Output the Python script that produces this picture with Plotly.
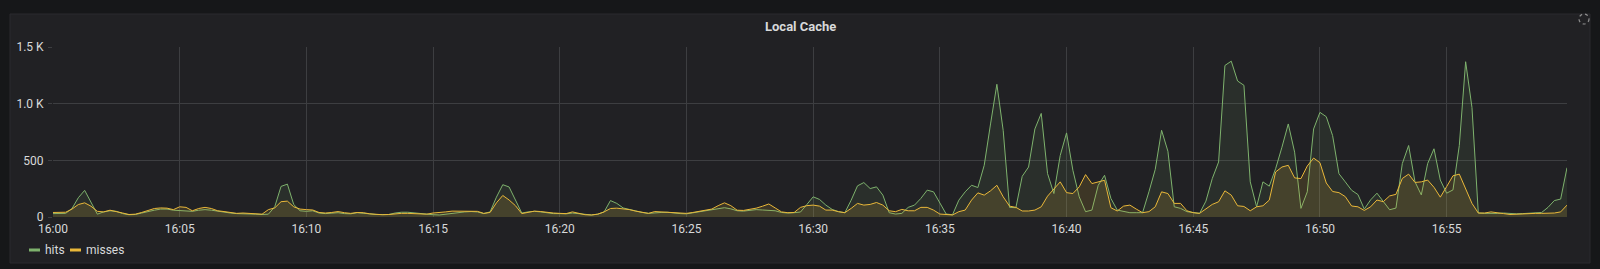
import pandas as pd
import plotly.graph_objects as go

start_time = "2024-01-01 16:00:00"
step_seconds = 15

hits = [
    30, 30, 32, 75, 170, 235, 130, 25, 45, 55, 50, 30, 20, 22, 35, 50, 60, 70, 70, 60,
    55, 55, 50, 60, 65, 60, 50, 45, 35, 30, 30, 28, 25, 22, 25, 90, 270, 290, 110, 55,
    50, 55, 35, 30, 35, 38, 30, 28, 38, 35, 28, 22, 20, 22, 35, 42, 42, 35, 28, 22,
    20, 18, 25, 35, 40, 45, 48, 45, 30, 45, 175, 285, 265, 150, 35, 45, 50, 45, 35, 30,
    30, 28, 35, 28, 20, 18, 25, 45, 145, 120, 80, 65, 50, 40, 32, 38, 40, 42, 35, 30,
    28, 38, 45, 55, 65, 75, 82, 72, 55, 52, 58, 65, 62, 58, 55, 40, 35, 38, 44, 110,
    178, 155, 105, 67, 47, 38, 149, 275, 304, 251, 266, 193, 38, 26, 32, 85, 105, 164, 237, 222,
    120, 26, 20, 149, 222, 280, 260, 456, 821, 1171, 762, 85, 82, 359, 441, 777, 914, 383, 207, 543,
    742, 412, 178, 47, 61, 280, 368, 164, 61, 47, 38, 38, 38, 222, 420, 765, 580, 90, 76, 47,
    41, 32, 140, 339, 485, 1337, 1375, 1200, 1162, 310, 90, 310, 272, 426, 616, 821, 572, 76, 222, 777,
    923, 885, 718, 382, 310, 236, 198, 70, 151, 210, 137, 64, 79, 471, 631, 311, 195, 471, 602, 326,
    210, 239, 631, 1370, 966, 35, 32, 30, 32, 35, 30, 28, 30, 32, 32, 40, 85, 145, 158, 435,
]

misses = [
    40, 40, 42, 70, 110, 125, 95, 50, 45, 60, 50, 35, 22, 25, 40, 60, 75, 80, 78, 65,
    90, 85, 55, 75, 85, 75, 55, 48, 38, 32, 35, 32, 28, 25, 65, 80, 135, 140, 90, 70,
    65, 62, 40, 35, 40, 48, 38, 32, 40, 38, 28, 22, 20, 22, 28, 32, 32, 30, 25, 25,
    35, 38, 45, 52, 50, 50, 50, 50, 32, 40, 125, 190, 150, 100, 30, 40, 52, 48, 40, 35,
    32, 30, 45, 35, 20, 18, 25, 45, 75, 78, 72, 65, 52, 40, 32, 48, 45, 45, 40, 38,
    32, 40, 48, 58, 70, 100, 125, 100, 60, 58, 65, 78, 95, 115, 80, 45, 38, 40, 85, 100,
    105, 96, 61, 61, 47, 38, 76, 120, 105, 111, 128, 105, 55, 47, 67, 55, 55, 85, 85, 61,
    26, 20, 18, 47, 61, 149, 213, 193, 231, 280, 178, 96, 85, 53, 53, 61, 90, 184, 251, 310,
    215, 207, 266, 374, 295, 310, 324, 82, 53, 96, 105, 70, 38, 47, 90, 222, 207, 120, 120, 55,
    38, 32, 70, 111, 134, 231, 193, 99, 93, 55, 90, 99, 149, 397, 441, 456, 345, 339, 450, 520,
    479, 300, 225, 215, 180, 97, 90, 58, 90, 150, 135, 186, 200, 340, 378, 305, 310, 326, 262, 175,
    268, 364, 378, 253, 120, 35, 35, 45, 40, 30, 22, 25, 30, 35, 32, 32, 32, 35, 45, 105,
]

y_tick_vals = [0, 500, 1000, 1500]
y_tick_text = ["0", "500", "1.0 K", "1.5 K"]
title_text = "Local Cache"
series_names = ["hits", "misses"]
series_colors = ["#7EB26D", "#EAB839"]
series_fills = ["rgba(126,178,109,0.10)", "rgba(234,184,57,0.14)"]

times = pd.date_range(start_time, periods=len(hits), freq=f"{step_seconds}s")
x_ticks = pd.date_range(start_time, periods=12, freq="5min")

W, H = 1600, 269
L, R, T, B = 53, 1567, 47, 217  # plot area in pixels


def px(x):
    return (x - L) / (R - L)


def py(y):
    return (B - y) / (B - T)


fig = go.Figure()
for name, vals, col, fill in zip(series_names, [hits, misses], series_colors, series_fills):
    fig.add_trace(go.Scatter(
        x=times, y=vals, name=name, mode="lines",
        line=dict(color=col, width=1),
        fill="tozeroy", fillcolor=fill,
        showlegend=False, hoverinfo="x+y+name",
    ))

grid = "#3d3e41"
font_col = "#d8d9da"

shapes = [
    # panel
    dict(type="rect", xref="paper", yref="paper", x0=px(10), x1=px(1590), y0=py(263), y1=py(14),
         fillcolor="#212124", line=dict(color="#2a2b2e", width=1), layer="below"),
    # loading spinner
    dict(type="circle", xref="paper", yref="paper", x0=px(1579), x1=px(1589), y0=py(24), y1=py(14),
         line=dict(color="#8e8e8e", width=1.2, dash="dot"), layer="above"),
]
annotations = [
    dict(text="<b>" + title_text + "</b>", xref="paper", yref="paper", x=px(800), y=py(26),
         showarrow=False, font=dict(size=13, color=font_col, family="Roboto"),
         xanchor="center", yanchor="middle"),
]
# legend
legend_x = [29, 70]
for name, col, lx in zip(series_names, series_colors, legend_x):
    shapes.append(dict(type="line", xref="paper", yref="paper", x0=px(lx), x1=px(lx + 11),
                       y0=py(250), y1=py(250), line=dict(color=col, width=3)))
    annotations.append(dict(text=name, xref="paper", yref="paper", x=px(lx + 14), y=py(250),
                            showarrow=False, xanchor="left", yanchor="middle",
                            font=dict(size=12, color=font_col, family="Roboto")))

fig.update_layout(
    width=W, height=H,
    margin=dict(l=L, r=W - R, t=T, b=H - B, pad=0),
    paper_bgcolor="#161719",
    plot_bgcolor="rgba(0,0,0,0)",
    font=dict(family="Roboto", size=12, color=font_col),
    shapes=shapes, annotations=annotations,
    showlegend=False,
    xaxis=dict(
        range=[times[0], times[-1]],
        tickvals=x_ticks, tickformat="%H:%M",
        showgrid=True, gridcolor=grid, gridwidth=1,
        zeroline=False, showline=False,
        ticks="", tickfont=dict(size=12, color=font_col),
        ticklabelstandoff=3,
    ),
    yaxis=dict(
        range=[0, 1500],
        tickvals=y_tick_vals, ticktext=y_tick_text,
        showgrid=True, gridcolor=grid, gridwidth=1,
        zeroline=False, showline=False,
        ticks="outside", ticklen=4, tickcolor=grid,
        tickfont=dict(size=12, color=font_col),
        ticklabelstandoff=2,
    ),
)

fig.write_html("out.html", config=dict(displayModeBar=False))
